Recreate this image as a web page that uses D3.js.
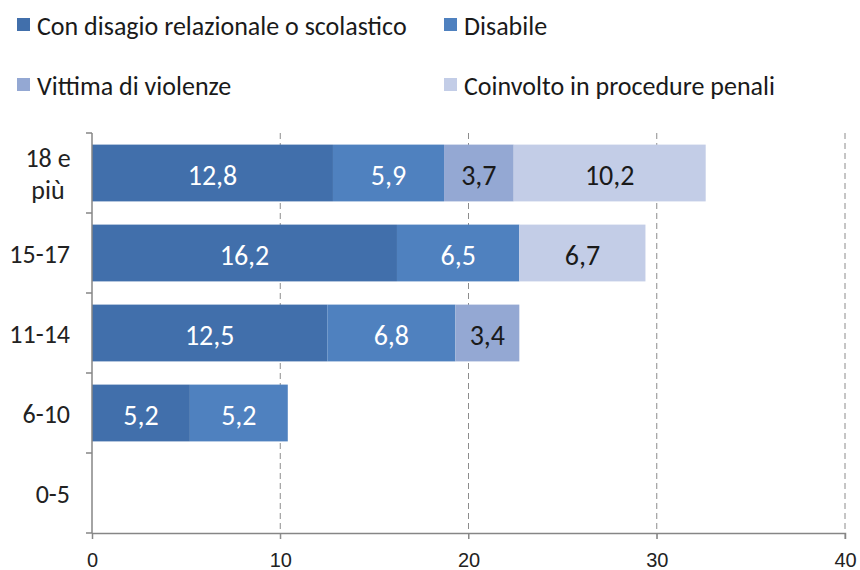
<!DOCTYPE html>
<html>
<head>
<meta charset="utf-8">
<script src="https://cdn.jsdelivr.net/npm/d3@7"></script>
<style>
  body { margin: 0; background: #fff; }
  svg { font-family: Carlito, "Liberation Sans Narrow", "DejaVu Sans Condensed", sans-serif; }
</style>
</head>
<body>
<div id="chart"></div>
<script>
const categories = ['18 e più', '15-17', '11-14', '6-10', '0-5'];
const seriesNames = ['Con disagio relazionale o scolastico', 'Disabile', 'Vittima di violenze', 'Coinvolto in procedure penali'];
const disagio = [12.8, 16.2, 12.5, 5.2, 0];
const disabile = [5.9, 6.5, 6.8, 5.2, 0];
const vittima = [3.7, 0, 3.4, 0, 0];
const penali = [10.2, 6.7, 0, 0, 0];
const xTicks = [0, 10, 20, 30, 40];

const colors = ['#416fab', '#4f81bf', '#94a8d3', '#c3cde7'];
const labelColors = ['#fff', '#fff', '#1a1a1a', '#1a1a1a'];

const width = 860, height = 570;
const margin = { top: 133, left: 92, right: 15, bottom: 37 };

const svg = d3.select('#chart')
  .append('svg')
  .attr('width', width)
  .attr('height', height);

const x = d3.scaleLinear()
  .domain([0, 40])
  .range([margin.left, width - margin.right]);

const y = d3.scaleBand()
  .domain(categories)
  .range([margin.top, height - margin.bottom])
  .paddingInner(0.29)
  .paddingOuter(0.145);

// gridlines
svg.append('g')
  .selectAll('line')
  .data(xTicks.filter(d => d > 0))
  .join('line')
  .attr('x1', d => x(d)).attr('x2', d => x(d))
  .attr('y1', margin.top).attr('y2', height - margin.bottom + 6)
  .style('stroke', '#8c8c8c')
  .style('stroke-dasharray', '6,4')
  .style('stroke-width', 1);

// stacked bars
const rows = categories.map((c, i) => ({
  cat: c,
  s0: disagio[i], s1: disabile[i], s2: vittima[i], s3: penali[i]
}));
const stack = d3.stack().keys(['s0', 's1', 's2', 's3'])(rows);

const layers = svg.append('g')
  .selectAll('g')
  .data(stack)
  .join('g')
  .style('fill', (d, i) => colors[i]);

layers.selectAll('rect')
  .data(d => d.filter(p => p[1] - p[0] > 0))
  .join('rect')
  .attr('x', d => x(d[0]))
  .attr('y', d => y(d.data.cat))
  .attr('width', d => x(d[1]) - x(d[0]))
  .attr('height', y.bandwidth());

layers.each(function(layer, i) {
  d3.select(this).selectAll('text')
    .data(layer.filter(p => p[1] - p[0] > 0))
    .join('text')
    .attr('x', d => (x(d[0]) + x(d[1])) / 2)
    .attr('y', d => y(d.data.cat) + y.bandwidth() / 2 + 2)
    .attr('dy', '0.35em')
    .attr('text-anchor', 'middle')
    .attr('font-size', '28px')
    .style('fill', labelColors[i])
    .text(d => d3.format('.1f')(d[1] - d[0]).replace('.', ','));
});

// axes
const axisColor = '#868686';
svg.append('line')
  .attr('x1', x(0)).attr('x2', x(0))
  .attr('y1', margin.top).attr('y2', height - margin.bottom)
  .style('stroke', axisColor).style('stroke-width', 1.5);

const xAxis = svg.append('g')
  .attr('transform', `translate(0,${height - margin.bottom})`)
  .call(d3.axisBottom(x).tickValues(xTicks).tickSize(6).tickPadding(14));
xAxis.select('.domain').style('stroke', axisColor).style('stroke-width', 1.5);
xAxis.selectAll('.tick line').style('stroke', axisColor);
xAxis.selectAll('text').attr('font-size', '20px').style('fill', '#222').style('font-family', 'inherit');

// category ticks and labels
const yEdges = categories.map(c => y(c) - y.step() * y.paddingInner() / 2).concat([height - margin.bottom]);
svg.append('g')
  .selectAll('line')
  .data(yEdges)
  .join('line')
  .attr('x1', x(0) - 6).attr('x2', x(0))
  .attr('y1', d => d).attr('y2', d => d)
  .style('stroke', axisColor).style('stroke-width', 1.5);

const catLabels = svg.append('g')
  .selectAll('text')
  .data(categories)
  .join('text')
  .attr('text-anchor', 'end')
  .attr('font-size', '26px')
  .style('fill', '#222');

catLabels.each(function(c) {
  const t = d3.select(this);
  const cy = y(c) + y.bandwidth() / 2;
  if (c === '18 e più') {
    t.attr('text-anchor', 'middle');
    t.append('tspan').attr('x', 48).attr('y', cy - 6).text('18 e');
    t.append('tspan').attr('x', 48).attr('y', cy + 26).text('più');
  } else {
    t.attr('x', 70).attr('y', cy + 1).attr('dy', '0.35em').text(c);
  }
});

// legend
const legendPos = [[17, 25], [444, 25], [17, 85], [444, 85]];
const legend = svg.append('g')
  .selectAll('g')
  .data(seriesNames)
  .join('g')
  .attr('transform', (d, i) => `translate(${legendPos[i][0]},${legendPos[i][1]})`);

legend.append('rect')
  .attr('x', 0).attr('y', -7)
  .attr('width', 13).attr('height', 13)
  .style('fill', (d, i) => colors[i]);

legend.append('text')
  .attr('x', 20)
  .attr('y', 1)
  .attr('dy', '0.35em')
  .attr('font-size', '26px')
  .style('fill', '#1a1a1a')
  .text(d => d);
</script>
</body>
</html>
